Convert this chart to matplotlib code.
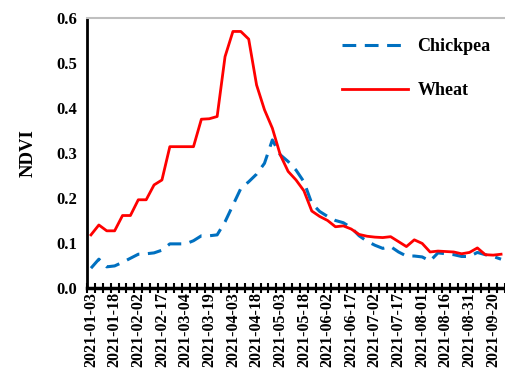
# NDVI time series, chickpea vs wheat
import numpy as np
import pandas as pd
import matplotlib
matplotlib.use('Agg')
import matplotlib.pyplot as plt

# categories: image dates (5-day step, a gap in September)
dates = [d.strftime('%Y-%m-%d') for d in pd.date_range('2021-01-03', '2021-08-31', freq='5D')]
dates += ['2021-09-05', '2021-09-10', '2021-09-20', '2021-09-25']

chickpea = [0.044, 0.064, 0.047, 0.049, 0.057, 0.066, 0.075, 0.076, 0.078, 0.084,
            0.098, 0.098, 0.098, 0.105, 0.116, 0.116, 0.118, 0.147, 0.184, 0.221,
            0.236, 0.253, 0.277, 0.329, 0.296, 0.281, 0.262, 0.236, 0.188, 0.170,
            0.159, 0.150, 0.145, 0.134, 0.116, 0.104, 0.095, 0.088, 0.092, 0.080,
            0.071, 0.071, 0.069, 0.060, 0.078, 0.076, 0.074, 0.070, 0.070, 0.079,
            0.074, 0.070, 0.064]
wheat = [0.118, 0.140, 0.127, 0.127, 0.161, 0.161, 0.196, 0.196, 0.229, 0.240,
         0.314, 0.314, 0.314, 0.314, 0.375, 0.376, 0.381, 0.514, 0.570, 0.570,
         0.553, 0.451, 0.396, 0.355, 0.296, 0.259, 0.240, 0.216, 0.171, 0.159,
         0.150, 0.136, 0.138, 0.131, 0.119, 0.115, 0.113, 0.112, 0.114, 0.103,
         0.092, 0.107, 0.099, 0.080, 0.082, 0.081, 0.080, 0.076, 0.079, 0.089,
         0.074, 0.073, 0.075]

yticks = [0.0, 0.1, 0.2, 0.3, 0.4, 0.5, 0.6]
label_step = 3

plt.rcParams['font.family'] = ['Liberation Serif', 'DejaVu Serif']
plt.rcParams['font.weight'] = 'bold'

fig = plt.figure(figsize=(5.06, 3.74), dpi=100)
ax = fig.add_axes([0.172, 0.23, 0.826, 0.722])

x = np.arange(len(dates))
ax.plot(x, chickpea, color='#0070C0', linewidth=2.2, linestyle=(0, (4.5, 2.8)), label='Chickpea')
ax.plot(x, wheat, color='#FF0000', linewidth=2.0, label='Wheat')

ax.set_xlim(-0.5, len(dates) - 0.5)
ax.set_ylim(0, 0.6)
ax.set_yticks(yticks)
ax.set_yticklabels(['%.1f' % v for v in yticks], fontsize=12, fontweight='bold')
ax.tick_params(axis='y', length=0, pad=7)

# labels every third category, tick marks on category boundaries
ax.set_xticks(x[::label_step])
ax.set_xticklabels(dates[::label_step], rotation=90, fontsize=11.5, fontweight='bold')
ax.tick_params(axis='x', which='major', length=0, pad=3)
ax.set_xticks(np.arange(-0.5, len(dates)), minor=True)
ax.tick_params(axis='x', which='minor', direction='inout', length=7, width=1.5, color='black')

ax.set_ylabel('NDVI', fontsize=13.5, fontweight='bold', labelpad=14)

ax.spines['left'].set_color('black')
ax.spines['left'].set_linewidth(2)
ax.spines['bottom'].set_color('black')
ax.spines['bottom'].set_linewidth(2.5)
ax.spines['top'].set_color('#BFBFBF')
ax.spines['top'].set_linewidth(1.5)
ax.spines['right'].set_visible(False)

ax.legend(loc='upper left', bbox_to_anchor=(0.643, 0.941), bbox_transform=fig.transFigure,
          frameon=False, handlelength=3.7, handletextpad=0.5, labelspacing=1.5,
          prop={'weight': 'bold', 'size': 13})

fig.savefig('out.png', dpi=100)
